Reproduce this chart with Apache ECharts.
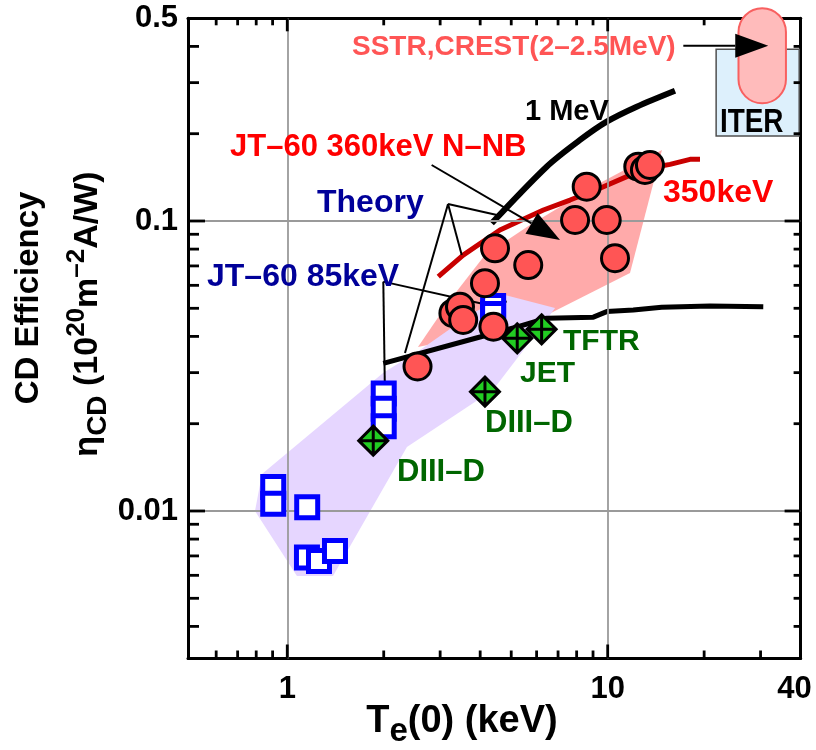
<!DOCTYPE html>
<html><head><meta charset="utf-8">
<script src="https://cdn.jsdelivr.net/npm/echarts@6/dist/echarts.min.js"></script>
<style>html,body{margin:0;padding:0;background:#fff}#c{width:816px;height:750px}</style>
</head><body><div id="c"></div>
<script>
// ---------------- data ----------------
const xRange = [0.49, 40];
const yRange = [0.0031, 0.5];
const xTickValues = [1, 10, 40];
const xTickLabels = ['1', '10', '40'];
const yTickValues = [0.01, 0.1, 0.5];
const yTickLabels = ['0.01', '0.1', '0.5'];
const xMajorTicks = [1, 10];
const yMajorTicks = [0.01, 0.1];
const xMinorTicks = [0.6, 0.7, 0.8, 0.9, 2, 3, 4, 5, 6, 7, 8, 9, 20, 30];
const yMinorTicks = [0.004, 0.005, 0.006, 0.007, 0.008, 0.009, 0.02, 0.03, 0.04, 0.05, 0.06, 0.07, 0.08, 0.09, 0.2, 0.3, 0.4];
const gridX = [1, 10];
const gridY = [0.01, 0.1];

// JT-60 360keV N-NB experiments (red circles)
const jt60NNB = [[2.55,0.0315],[3.30,0.0481],[3.46,0.0506],[3.54,0.0456],[4.14,0.0610],[4.40,0.0432],[4.45,0.0805],[5.65,0.0705],[7.91,0.1008],[8.60,0.1313],[9.93,0.1008],[10.54,0.0744],[12.46,0.1539],[13.07,0.150],[13.55,0.1560]];
// JT-60 85keV experiments (blue squares)
const jt60NB = [[4.39,0.0509],[4.39,0.0478],[2.0,0.0254],[2.0,0.0225],[2.0,0.0196],[0.904,0.0121],[0.904,0.0106],[1.154,0.0103],[1.152,0.00691],[1.256,0.00672],[1.409,0.00728]];
// other tokamaks (green diamonds): DIII-D, DIII-D, JET, TFTR
const tokamaks = [[1.855,0.01748],[4.14,0.02579],[5.22,0.03941],[6.22,0.04232]];
// theory curves
const theory350keV = [[2.96,0.0643],[3.54,0.0763],[4.61,0.0931],[6.30,0.1091],[7.63,0.1181],[9.46,0.1297],[11.47,0.1422],[14.22,0.1539],[15.65,0.1568],[18.07,0.1632],[19.41,0.1632]];
const theory1MeV = [[4.345,0.0982],[6.45,0.1539],[8.20,0.1903],[9.93,0.2200],[12.32,0.2478],[16.22,0.2813]];
const theory85keV = [[1.994,0.0323],[3.995,0.0398],[5.32,0.0434],[6.45,0.0462],[9.02,0.0466],[9.93,0.0487],[12.02,0.0493],[14.74,0.0504],[20.86,0.0509],[30.59,0.0506]];
// shaded regions
const nnbRegion = [[2.558,0.03678],[3.22,0.0534],[4.14,0.0763],[5.72,0.0969],[9.46,0.1352],[14.77,0.1757],[11.74,0.0662],[6.37,0.0470],[4.61,0.0421]];
const nbRegion = [[0.793,0.0100],[0.834,0.01341],[1.990,0.02991],[2.596,0.03591],[3.717,0.04742],[4.78,0.05557],[6.85,0.0501],[6.37,0.04485],[4.385,0.02614],[2.363,0.01662],[1.389,0.00597],[1.072,0.00597]];
const iterBox = [21.8, 0.1964, 39.6, 0.3908];
const reactorRange = [25.6, 0.2546, 36.0, 0.5413];
// annotation leader lines: [x1, y1, x2, y2]
const arrowLines = [
  [2.822, 0.156, 7.10, 0.0860],
  [17.22, 0.4023, 31.7, 0.4023]
];
const leaderLines = [
  [3.175, 0.1145, 4.513, 0.1049],
  [3.175, 0.1145, 3.503, 0.0763],
  [3.175, 0.1145, 2.330, 0.03506],
  [1.994, 0.0618, 4.513, 0.0505],
  [1.994, 0.0618, 2.018, 0.02492],
  [1.855, 0.0249, 2.168, 0.0249],
  [3.995, 0.0527, 4.84, 0.0527]
];

// ---------------- chart ----------------
const FF = '"Liberation Sans", Arial, sans-serif';
const chart = echarts.init(document.getElementById('c'), null, {renderer: 'canvas'});

function labelFrom(values, labels) {
  return function (v) {
    for (let i = 0; i < values.length; i++) {
      if (Math.abs(values[i] - v) / values[i] < 1e-4) return labels[i] === '40' ? '{r|40}' : labels[i];
    }
    return '';
  };
}
function polygonSeries(points, color, z) {
  return {
    type: 'custom', coordinateSystem: 'cartesian2d', z: z, silent: true, clip: false,
    data: points,
    renderItem: function (params, api) {
      if (params.dataIndex !== 0) return null;
      return {type: 'polygon', shape: {points: points.map(p => api.coord(p))}, style: {fill: color}};
    }
  };
}
function boxSeries(box, fill, stroke, lw, rounded, z) {
  return {
    type: 'custom', coordinateSystem: 'cartesian2d', z: z, silent: true, clip: false,
    data: [box],
    encode: {x: [0, 2], y: [1, 3]},
    renderItem: function (params, api) {
      const a = api.coord([api.value(0), api.value(1)]), b = api.coord([api.value(2), api.value(3)]);
      const x = Math.min(a[0], b[0]), y = Math.min(a[1], b[1]);
      const w = Math.abs(b[0] - a[0]), h = Math.abs(b[1] - a[1]);
      return {type: 'rect', shape: {x: x, y: y, width: w, height: h, r: rounded ? w / 2 : 0},
        style: {fill: fill, stroke: stroke, lineWidth: lw}};
    }
  };
}
function segmentSeries(segs, withHead, z) {
  return {
    type: 'custom', coordinateSystem: 'cartesian2d', z: z, silent: true, clip: false,
    data: segs,
    encode: {x: [0, 2], y: [1, 3]},
    renderItem: function (params, api) {
      const p0 = api.coord([api.value(0), api.value(1)]);
      const p1 = api.coord([api.value(2), api.value(3)]);
      const children = [];
      if (!withHead) {
        children.push({type: 'line', shape: {x1: p0[0], y1: p0[1], x2: p1[0], y2: p1[1]},
          style: {stroke: '#000', lineWidth: 2}});
      } else {
        const dx = p1[0] - p0[0], dy = p1[1] - p0[1];
        const len = Math.sqrt(dx * dx + dy * dy), ux = dx / len, uy = dy / len;
        const L = 33, W = 12;
        const bx = p1[0] - ux * L, by = p1[1] - uy * L;
        children.push({type: 'line', shape: {x1: p0[0], y1: p0[1], x2: bx, y2: by},
          style: {stroke: '#000', lineWidth: 2}});
        children.push({type: 'polygon', shape: {points: [[p1[0], p1[1]], [bx - uy * W, by + ux * W], [bx + uy * W, by - ux * W]]},
          style: {fill: '#000'}});
      }
      return {type: 'group', children: children};
    }
  };
}
function frameAxis(range, position, labelOpt) {
  return {type: 'log', logBase: 10, min: range[0], max: range[1], position: position,
    axisLine: {show: true, onZero: false, lineStyle: {color: '#000', width: 3}},
    axisTick: {show: false},
    axisLabel: labelOpt || {show: false}, splitLine: {show: false}};
}

const texts = [
  {type: 'text', z: 100, x: 352, y: 47, style: {text: 'SSTR,CREST(2–2.5MeV)', fill: '#FF5555', font: 'bold 28px ' + FF, textAlign: 'left', textVerticalAlign: 'middle'}},
  {type: 'text', z: 100, x: 525, y: 112, style: {text: '1 MeV', fill: '#000', font: 'bold 29px ' + FF, textAlign: 'left', textVerticalAlign: 'middle'}},
  {type: 'text', z: 100, x: 230, y: 147, style: {text: 'JT–60 360keV N–NB', fill: '#FF0000', font: 'bold 31px ' + FF, textAlign: 'left', textVerticalAlign: 'middle'}},
  {type: 'text', z: 100, x: 663, y: 193, style: {text: '350keV', fill: '#FF0000', font: 'bold 32px ' + FF, textAlign: 'left', textVerticalAlign: 'middle'}},
  {type: 'text', z: 100, x: 317, y: 203, style: {text: 'Theory', fill: '#000099', font: 'bold 32px ' + FF, textAlign: 'left', textVerticalAlign: 'middle'}},
  {type: 'text', z: 100, x: 207, y: 277, style: {text: 'JT–60 85keV', fill: '#000099', font: 'bold 32px ' + FF, textAlign: 'left', textVerticalAlign: 'middle'}},
  {type: 'text', z: 100, x: 563, y: 342, style: {text: 'TFTR', fill: '#006600', font: 'bold 30px ' + FF, textAlign: 'left', textVerticalAlign: 'middle'}},
  {type: 'text', z: 100, x: 520, y: 374, style: {text: 'JET', fill: '#006600', font: 'bold 30px ' + FF, textAlign: 'left', textVerticalAlign: 'middle'}},
  {type: 'text', z: 100, x: 485, y: 423, style: {text: 'DIII–D', fill: '#006600', font: 'bold 31px ' + FF, textAlign: 'left', textVerticalAlign: 'middle'}},
  {type: 'text', z: 100, x: 397, y: 472, style: {text: 'DIII–D', fill: '#006600', font: 'bold 31px ' + FF, textAlign: 'left', textVerticalAlign: 'middle'}},
  {type: 'text', z: 100, x: 720, y: 123, scaleX: 0.82, style: {text: 'ITER', fill: '#000', font: 'bold 34px ' + FF, textAlign: 'left', textVerticalAlign: 'middle'}},
  {type: 'text', z: 100, x: 29, y: 298, rotation: Math.PI / 2,
    style: {text: 'CD Efficiency', fill: '#000', font: 'bold 33px ' + FF, textAlign: 'center', textVerticalAlign: 'middle'}},
  {type: 'text', z: 100, x: 88, y: 314, rotation: Math.PI / 2,
    style: {text: '{m|η}{s|CD}{m| (10}{p|20}{m|m}{p|–2}{m|A/W)}', fill: '#000', textAlign: 'center', textVerticalAlign: 'middle',
      rich: {
        m: {fontSize: 34, fontWeight: 'bold', fontFamily: FF, lineHeight: 48, verticalAlign: 'middle', fill: '#000'},
        s: {fontSize: 28, fontWeight: 'bold', fontFamily: FF, lineHeight: 28, verticalAlign: 'bottom', fill: '#000'},
        p: {fontSize: 26, fontWeight: 'bold', fontFamily: FF, lineHeight: 26, verticalAlign: 'top', fill: '#000'}
      }}},
  {type: 'text', z: 100, x: 462, y: 722,
    style: {text: '{m|T}{s|e}{m|(0) (keV)}', fill: '#000', textAlign: 'center', textVerticalAlign: 'middle',
      rich: {
        m: {fontSize: 38, fontWeight: 'bold', fontFamily: FF, lineHeight: 52, verticalAlign: 'middle', fill: '#000'},
        s: {fontSize: 33, fontWeight: 'bold', fontFamily: FF, lineHeight: 33, verticalAlign: 'bottom', fill: '#000'}
      }}}
];

const option = {
  animation: false,
  backgroundColor: '#fff',
  grid: {left: 188, right: 15.4, top: 18.3, bottom: 91.5, containLabel: false, outerBoundsMode: 'none'},
  xAxis: [
    frameAxis(xRange, 'bottom', {show: true, margin: 15, showMinLabel: false, showMaxLabel: true, interval: 0,
      color: '#000', fontSize: 31, fontWeight: 'bold', fontFamily: FF,
      formatter: labelFrom(xTickValues, xTickLabels),
      rich: {r: {color: '#000', fontSize: 31, fontWeight: 'bold', fontFamily: FF, padding: [0, 12, 0, 0]}}}),
    frameAxis(xRange, 'top')
  ],
  yAxis: [
    frameAxis(yRange, 'left', {show: true, margin: 10, showMinLabel: false, showMaxLabel: true, interval: 0,
      color: '#000', fontSize: 31, fontWeight: 'bold', fontFamily: FF,
      formatter: labelFrom(yTickValues, yTickLabels)}),
    frameAxis(yRange, 'right')
  ],
  series: [
    polygonSeries(nnbRegion, '#FFAAAA', 1),
    polygonSeries(nbRegion, '#E6D6FF', 1),
    boxSeries(iterBox, '#DDF0FC', '#505050', 1.5, false, 1),
    boxSeries(reactorRange, '#FFBBBB', '#F86060', 2, true, 10),
    // grid lines
    {type: 'line', data: [], z: 2, silent: true,
      markLine: {silent: true, symbol: ['none', 'none'], label: {show: false}, animation: false,
        lineStyle: {color: '#9a9a9a', width: 1.8, type: 'solid'},
        data: gridX.map(v => ({xAxis: v})).concat(gridY.map(v => ({yAxis: v})))}},
    // theory curves
    {type: 'line', name: '350keV', data: theory350keV, z: 3, showSymbol: false, symbol: 'none', silent: true,
      lineStyle: {color: '#C80000', width: 5}},
    {type: 'line', name: '1 MeV', data: theory1MeV, z: 3, showSymbol: false, symbol: 'none', silent: true, smooth: 0.3,
      lineStyle: {color: '#000', width: 6}},
    {type: 'line', name: '85keV', data: theory85keV, z: 3, showSymbol: false, symbol: 'none', silent: true,
      lineStyle: {color: '#000', width: 5}},
    // annotation lines
    segmentSeries(arrowLines, true, 11),
    segmentSeries(leaderLines, false, 5),
    // markers
    {type: 'scatter', name: 'JT-60 85keV', data: jt60NB, z: 6, symbol: 'rect', symbolSize: 21,
      itemStyle: {color: '#fff', borderColor: '#0000FF', borderWidth: 5, opacity: 1}},
    {type: 'scatter', name: 'JT-60 360keV', data: jt60NNB, z: 7, symbol: 'circle', symbolSize: 27,
      itemStyle: {color: '#FF5555', borderColor: '#000', borderWidth: 3, opacity: 1}},
    {type: 'scatter', name: 'tokamaks', data: tokamaks, z: 8,
      symbol: 'path://M0,-10 L10,0 L0,10 L-10,0 Z M0,-10 L0,10 M-10,0 L10,0', symbolSize: 29,
      itemStyle: {color: '#22CC22', borderColor: '#000', borderWidth: 3, opacity: 1}}
  ],
  graphic: texts
};
chart.setOption(option);

// ---- inward axis ticks, positioned through the chart's own log scales ----
function toPx(p) { return chart.convertToPixel({gridIndex: 0}, p); }
function tickLine(a, dx, dy) {
  return {type: 'line', z: 9, silent: true,
    shape: {x1: a[0], y1: a[1], x2: a[0] + dx, y2: a[1] + dy},
    style: {stroke: '#000', lineWidth: 2.8}};
}
const tickEls = [];
function addXTicks(values, lenBottom, lenTop) {
  values.forEach(v => {
    const b = toPx([v, yRange[0]]), t = toPx([v, yRange[1]]);
    if (b && isFinite(b[0])) {
      tickEls.push(tickLine(b, 0, -lenBottom));
      tickEls.push(tickLine(t, 0, lenTop));
    }
  });
}
function addYTicks(values, lenLeft, lenRight) {
  values.forEach(v => {
    const l = toPx([xRange[0], v]), r = toPx([xRange[1], v]);
    if (l && isFinite(l[1])) {
      tickEls.push(tickLine(l, lenLeft, 0));
      tickEls.push(tickLine(r, -lenRight, 0));
    }
  });
}
addXTicks(xMinorTicks, 8, 7);
addXTicks(xMajorTicks, 14, 13);
addYTicks(yMinorTicks, 11, 7);
addYTicks(yMajorTicks, 17, 16);
chart.setOption({graphic: texts.concat(tickEls)});
</script></body></html>
